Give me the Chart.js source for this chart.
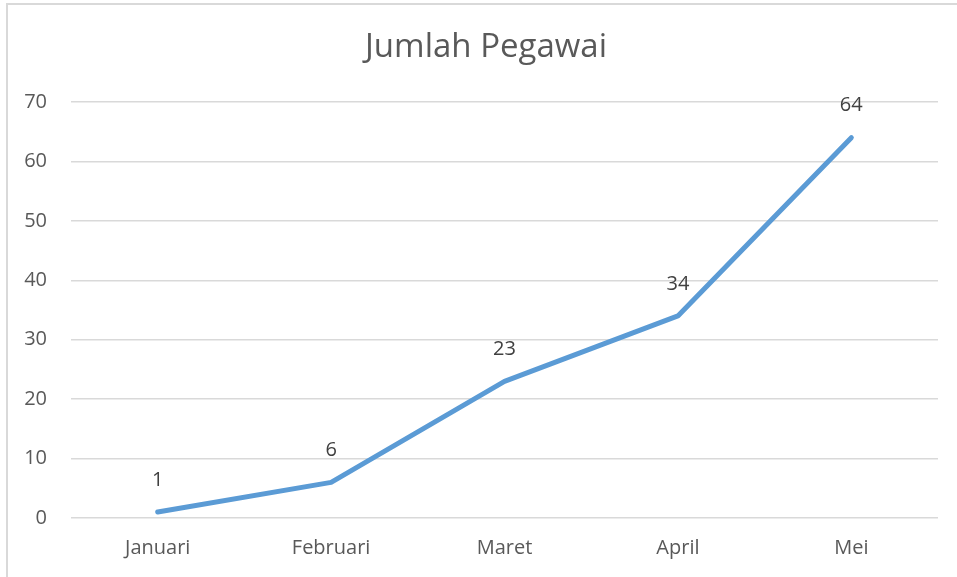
<!DOCTYPE html>
<html>
<head>
<meta charset="utf-8">
<script src="https://cdn.jsdelivr.net/npm/chart.js@4"></script>
<style>
  html, body { margin: 0; padding: 0; background: #fff; }
  #wrap { width: 957px; height: 577px; }
</style>
</head>
<body>
<div id="wrap"><canvas id="chartCanvas" width="957" height="577"></canvas></div>
<script>
// Datos del gráfico
const bulan = ['Januari', 'Februari', 'Maret', 'April', 'Mei'];
const jumlahPegawai = [1, 6, 23, 34, 64];
const yTicks = [0, 10, 20, 30, 40, 50, 60, 70];
const judul = 'Jumlah Pegawai';

const fontFamily = '"Open Sans", "Noto Sans", sans-serif';

// Borde gris a la izquierda y arriba, y el título
const bordePlugin = {
    id: 'borde',
    beforeDraw(chart) {
        const c = chart.ctx;
        c.save();
        c.strokeStyle = '#d9d9d9';
        c.lineWidth = 2;
        c.beginPath();
        c.moveTo(7, 577);
        c.lineTo(7, 4);
        c.lineTo(957, 4);
        c.stroke();
        c.font = '33px ' + fontFamily;
        c.fillStyle = '#595959';
        c.textAlign = 'center';
        c.textBaseline = 'middle';
        c.fillText(judul, 486, 48);
        c.restore();
    }
};

// Etiquetas de valor encima de cada punto
const etiquetasPlugin = {
    id: 'etiquetas',
    afterDatasetsDraw(chart) {
        const c = chart.ctx;
        const meta = chart.getDatasetMeta(0);
        c.save();
        c.font = '20px ' + fontFamily;
        c.fillStyle = '#404040';
        c.textAlign = 'center';
        c.textBaseline = 'middle';
        meta.data.forEach((pt, i) => {
            c.fillText(String(jumlahPegawai[i]), pt.x, pt.y - 32);
        });
        c.restore();
    }
};

const ctx = document.getElementById('chartCanvas').getContext('2d');
const chart = new Chart(ctx, {
    type: 'line',
    data: {
        labels: bulan,
        datasets: [{
            label: judul,
            data: jumlahPegawai,
            borderColor: '#5B9BD5',
            borderWidth: 5,
            borderCapStyle: 'round',
            borderJoinStyle: 'round',
            pointRadius: 0,
            tension: 0,
            fill: false
        }]
    },
    options: {
        responsive: false,
        animation: false,
        layout: { padding: { left: 0, right: 19, top: 102, bottom: 0 } },
        plugins: {
            legend: { display: false },
            tooltip: { enabled: false },
            title: { display: false }
        },
        scales: {
            x: {
                offset: true,
                grid: { display: false, drawTicks: false },
                border: { display: false },
                ticks: {
                    color: '#595959',
                    padding: 18,
                    font: { family: fontFamily, size: 20 }
                },
                afterFit(s) { s.height = 59; }
            },
            y: {
                min: 0,
                max: 70,
                afterBuildTicks(s) { s.ticks = yTicks.map(v => ({ value: v })); },
                grid: { color: '#d9d9d9', lineWidth: 1.5, drawTicks: false },
                border: { display: false },
                ticks: {
                    color: '#595959',
                    padding: 24,
                    font: { family: fontFamily, size: 20 }
                },
                afterFit(s) { s.width = 71; }
            }
        }
    },
    plugins: [bordePlugin, etiquetasPlugin]
});
</script>
</body>
</html>
